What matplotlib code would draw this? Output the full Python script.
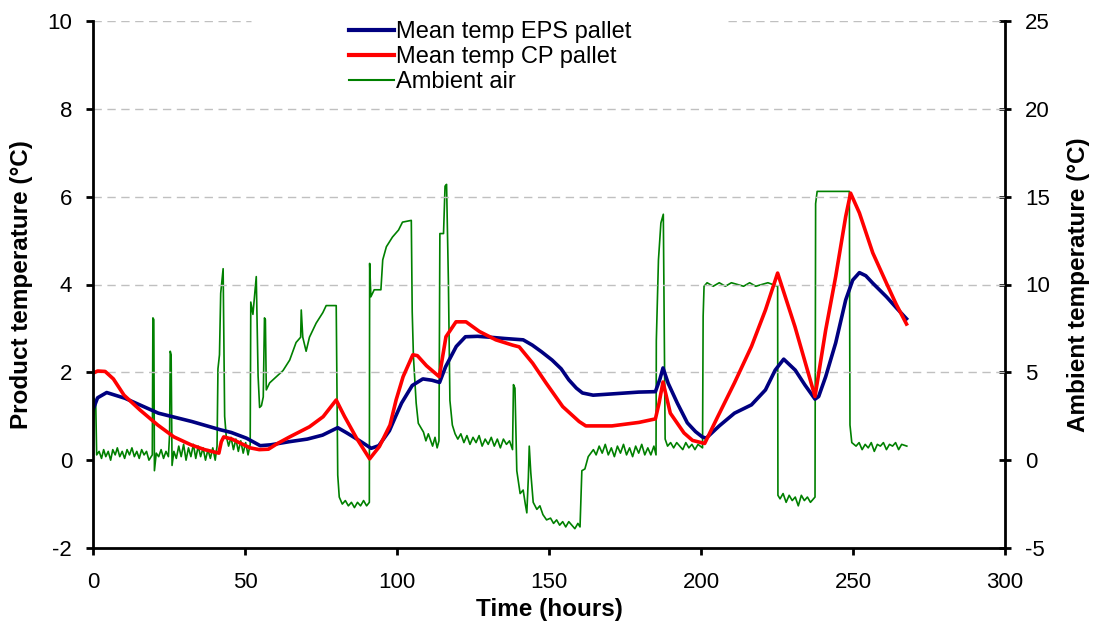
import matplotlib
matplotlib.use("Agg")
import matplotlib.pyplot as plt
from matplotlib.lines import Line2D

plt.rcParams['font.family'] = ['Liberation Sans', 'DejaVu Sans']
plt.rcParams['axes.unicode_minus'] = False

# mean product temperature, EPS pallet (hours, degC)
eps_pts = [(0, 1.15), (1.5, 1.42), (4.5, 1.54), (10.5, 1.41), (21.5, 1.07), (32.5, 0.88),
           (42, 0.69), (45.5, 0.63), (50.5, 0.5), (55, 0.33), (58.5, 0.35), (64.5, 0.42),
           (70.5, 0.48), (75.5, 0.57), (80.5, 0.74), (83.5, 0.62), (87.5, 0.45), (91.5, 0.27),
           (94, 0.33), (97.5, 0.67), (99.5, 0.99), (101.5, 1.3), (105, 1.7), (108.5, 1.85),
           (111.5, 1.82), (114, 1.77), (116, 2.13), (119.5, 2.59), (122.5, 2.81), (126.5, 2.82),
           (130.5, 2.8), (135.5, 2.77), (141.5, 2.74), (144.5, 2.62), (147.5, 2.47), (151, 2.28),
           (154, 2.08), (156.5, 1.83), (159, 1.64), (161, 1.53), (164.5, 1.48), (171, 1.51),
           (179.5, 1.55), (185, 1.56), (186.5, 1.85), (187.5, 2.1), (189.2, 1.75), (192.2, 1.3),
           (195.5, 0.85), (198.2, 0.65), (200.4, 0.53), (201.7, 0.5), (206, 0.78), (211, 1.07),
           (216.6, 1.26), (221.2, 1.6), (224.4, 2.05), (227.2, 2.3), (231, 2.05), (234.2, 1.71),
           (237.5, 1.39), (238.7, 1.45), (241, 1.9), (244.3, 2.67), (247.6, 3.65), (249.9, 4.1),
           (252.1, 4.27), (254.2, 4.2), (256.5, 4.03), (261, 3.72), (264.5, 3.45), (267.6, 3.22)]

# mean product temperature, CP pallet
cp_pts = [(0, 1.98), (1.5, 2.03), (4, 2.02), (6.7, 1.85), (10.2, 1.48), (15.5, 1.14),
          (21.3, 0.8), (26.6, 0.53), (32.2, 0.35), (36.7, 0.24), (41.4, 0.16), (42.2, 0.42),
          (43, 0.53), (45.7, 0.48), (48.7, 0.38), (51.7, 0.28), (54.7, 0.24), (57.7, 0.25),
          (60.7, 0.38), (64.7, 0.53), (71.2, 0.76), (75.7, 0.99), (80, 1.37), (82.7, 1.0),
          (86.7, 0.5), (91, 0.03), (94.2, 0.31), (97.7, 0.8), (99.7, 1.37), (102, 1.9),
          (105.2, 2.4), (106.7, 2.38), (109.7, 2.15), (113.9, 1.9), (116.1, 2.81), (119.4, 3.15),
          (122.7, 3.15), (127.1, 2.93), (132.5, 2.74), (138, 2.62), (140.2, 2.58), (144.6, 2.21),
          (149, 1.76), (154.5, 1.22), (159.9, 0.88), (162.1, 0.78), (170.7, 0.78), (179.6, 0.86),
          (185, 0.94), (186.2, 1.3), (187.5, 1.78), (189.9, 1.07), (194.4, 0.62), (197.2, 0.45),
          (201.2, 0.38), (205.5, 0.99), (211, 1.76), (216.6, 2.59), (221.2, 3.42), (225.2, 4.26),
          (230.9, 3.04), (237.5, 1.45), (241, 2.96), (244.3, 4.18), (247.6, 5.55), (249.2, 6.08),
          (252.1, 5.63), (256.5, 4.72), (261, 4.03), (264.2, 3.55), (267.6, 3.1)]

# ambient air temperature (right axis)
amb_pts = [(0, -0.4), (0.4, 3.5), (0.9, 3.2), (1.2, 0.3), (2, 0.5), (2.8, 0.1), (3.5, 0.6),
           (4.2, 0.2), (5, 0.5), (5.8, 0.0), (6.5, 0.6), (7.3, 0.3), (8, 0.7), (8.8, 0.2),
           (9.6, 0.5), (10.4, 0.1), (11.2, 0.6), (12, 0.3), (12.8, 0.7), (13.6, 0.2), (14.4, 0.5),
           (15.2, 0.1), (16, 0.6), (16.8, 0.3), (17.6, 0.5), (18.4, 0.0), (19.5, 0.3),
           (19.7, 8.1), (20.0, 8.0), (20.2, -0.6), (20.8, 0.4), (21.6, 0.2), (22.4, 0.6),
           (23.2, 0.1), (24.0, 0.5), (24.8, 0.2), (25.2, 1.5), (25.4, 6.2), (25.7, 6.0),
           (26.0, -0.3), (26.6, 0.5), (27.4, 0.1), (28.2, 0.8), (29, 0.2), (29.8, 0.9),
           (30.6, 0.0), (31.4, 0.7), (32.2, 0.2), (33, 0.9), (33.8, 0.1), (34.6, 0.8),
           (35.4, 0.2), (36.2, 0.7), (37, 0.0), (37.8, 0.6), (38.6, 0.1), (39.4, 0.7),
           (40.2, 0.0), (40.8, 0.8), (41.1, 5.2), (41.6, 6.0), (42.0, 9.5), (42.4, 10.2),
           (42.8, 10.9), (43.0, 7.4), (43.3, 2.5), (43.8, 1.4), (44.6, 0.8), (45.4, 1.3),
           (46.2, 0.6), (47, 1.2), (47.8, 0.5), (48.6, 1.1), (49.4, 0.4), (50.2, 1.0),
           (51, 0.3), (51.7, 0.9), (51.9, 9.0), (52.6, 8.3), (53.7, 10.45), (54.3, 4.8),
           (54.8, 3.0), (55.4, 3.1), (56.0, 3.6), (56.4, 8.1), (56.7, 8.0), (57.0, 4.0),
           (58.1, 4.4), (60.3, 4.75), (62.5, 5.1), (64.7, 5.7), (66.8, 6.7), (68.3, 7.0),
           (68.5, 8.55), (69.0, 7.0), (70.1, 6.2), (71.2, 7.0), (73.4, 7.8), (75.6, 8.4),
           (76.7, 8.8), (80.0, 8.8), (80.5, -0.85), (81, -2.1), (82, -2.5), (83, -2.3),
           (84, -2.6), (85, -2.4), (86, -2.7), (87, -2.4), (88, -2.6), (89, -2.3), (90, -2.6),
           (90.9, -2.4), (91.0, 11.2), (91.4, 9.3), (92.5, 9.7), (94.7, 9.7), (95.3, 11.4),
           (96.5, 12.15), (98.5, 12.7), (100.5, 13.1), (101.8, 13.55), (104.7, 13.65),
           (105.0, 8.45), (105.4, 5.9), (106.3, 3.25), (107.0, 2.1), (108.7, 1.6), (109.5, 1.1),
           (110.3, 1.5), (110.9, 1.2), (111.7, 0.8), (112.5, 1.3), (113.2, 0.7), (113.8, 1.1),
           (114.1, 12.9), (115.3, 12.9), (115.8, 15.6), (116.3, 15.7), (116.9, 10.2),
           (117.4, 3.4), (118.2, 2.0), (119.1, 1.5), (120, 1.2), (121, 1.5), (122, 1.0),
           (123, 1.4), (124, 0.9), (125, 1.3), (126, 1.0), (127, 1.4), (128, 0.8), (129, 1.2),
           (130, 0.9), (131, 1.3), (132, 0.8), (133, 1.2), (134, 0.7), (135, 1.2), (136, 0.9),
           (137, 1.1), (138, 0.6), (138.3, 4.3), (138.8, 4.1), (139.4, -0.6), (140.5, -1.9),
           (141.5, -1.7), (142.2, -2.5), (142.7, -3.0), (143.2, -1.0), (143.5, 0.8),
           (144.0, -0.7), (144.8, -2.4), (146, -2.8), (147, -2.6), (148, -3.1), (149.2, -3.4),
           (150.5, -3.3), (151.5, -3.6), (152.5, -3.4), (153.5, -3.7), (154.5, -3.5),
           (155.5, -3.8), (156.5, -3.5), (157.5, -3.7), (158.5, -3.9), (159.5, -3.6),
           (160.2, -3.8), (160.8, -0.6), (161.8, -0.5), (162.9, 0.2), (164.6, 0.6),
           (165.5, 0.3), (166.5, 0.8), (167.5, 0.4), (168.5, 0.9), (169.5, 0.3), (170.5, 0.7),
           (171.5, 0.2), (172.5, 0.8), (173.5, 0.4), (174.5, 0.9), (175.5, 0.3), (176.5, 0.7),
           (177.5, 0.2), (178.5, 0.8), (179.5, 0.4), (180.5, 0.9), (181.5, 0.3), (182.5, 0.7),
           (183.5, 0.3), (184.5, 0.8), (185.2, 0.3), (185.3, 6.8), (186.0, 11.4), (186.8, 13.5),
           (187.6, 14.0), (188.2, 1.2), (189, 0.8), (190, 1.0), (191, 0.7), (192, 1.0),
           (193, 0.8), (194, 0.6), (195, 1.0), (196, 0.7), (197, 0.9), (198, 0.6), (199, 0.9),
           (200.5, 0.7), (200.7, 8.2), (201.0, 9.9), (202, 10.1), (204, 9.9), (206, 10.1),
           (208, 9.9), (210, 10.1), (212, 10.0), (214, 9.9), (216, 10.1), (218, 9.9),
           (220, 10.0), (222, 10.1), (225.2, 9.9), (225.3, -2.0), (226, -2.2), (227, -1.9),
           (228, -2.4), (229, -2.0), (230, -2.3), (231, -2.1), (232, -2.6), (233, -2.0),
           (234, -2.3), (235, -2.1), (236, -2.4), (237.5, -2.1), (237.7, 14.6), (238.2, 15.3),
           (245, 15.3), (248.8, 15.3), (249.0, 2.0), (249.6, 1.0), (251, 0.8), (252, 1.0),
           (253, 0.6), (254, 0.9), (255, 0.7), (256, 1.0), (257, 0.5), (258, 0.9), (259, 0.8),
           (260, 1.0), (261, 0.6), (262, 0.9), (263, 0.8), (264, 1.0), (265, 0.6), (266, 0.9),
           (267.7, 0.8)]

x_ticks = [0, 50, 100, 150, 200, 250, 300]
left_ticks = [-2, 0, 2, 4, 6, 8, 10]
right_ticks = [-5, 0, 5, 10, 15, 20, 25]
labels = ['Mean temp EPS pallet', 'Mean temp CP pallet', 'Ambient air']

fig = plt.figure(figsize=(10.93, 6.25), dpi=100)
ax = fig.add_axes([0.0851, 0.1232, 0.8344, 0.8432])
ax2 = ax.twinx()

# ambient on the twin axis, drawn behind the product curves
ax.set_zorder(ax2.get_zorder() + 1)
ax.patch.set_visible(False)

t, v = zip(*amb_pts)
ax2.plot(t, v, color='#008000', lw=1.2)
t, v = zip(*eps_pts)
ax.plot(t, v, color='#000080', lw=2.6)
t, v = zip(*cp_pts)
ax.plot(t, v, color='#ff0000', lw=2.6)

ax.set_xlim(0, 300)
ax.set_ylim(-2, 10)
ax2.set_ylim(-5, 25)
ax.set_xticks(x_ticks)
ax.set_yticks(left_ticks)
ax2.set_yticks(right_ticks)

# dashed grid, gap at the top where the legend sits
for g in left_ticks[2:-1]:
    ax.axhline(g, color='#c0c0c0', lw=1, dashes=(6, 4), zorder=0)
ax.hlines(10, 0, 52, color='#c0c0c0', lw=1, linestyles=(0, (6, 4)), zorder=0)
ax.hlines(10, 209, 300, color='#c0c0c0', lw=1, linestyles=(0, (6, 4)), zorder=0)

for a in (ax, ax2):
    a.spines['top'].set_visible(False)
    for s in a.spines.values():
        s.set_linewidth(2)
ax.spines['right'].set_visible(False)
ax2.spines['left'].set_visible(False)
ax2.spines['bottom'].set_visible(False)

ax.tick_params(axis='x', direction='out', length=5, width=2, labelsize=16, pad=12)
ax.tick_params(axis='y', direction='out', length=5, width=2, labelsize=16, pad=10)
ax2.tick_params(axis='y', direction='inout', length=9, width=2, labelsize=16, pad=10)

ax.set_xlabel('Time (hours)', fontsize=17.5, fontweight='bold', labelpad=4)
ax.set_ylabel('Product temperature (°C)', fontsize=17.5, fontweight='bold', labelpad=10)
ax2.set_ylabel('Ambient temperature (°C)', fontsize=17.5, fontweight='bold', labelpad=12)

handles = [Line2D([], [], color='#000080', lw=3),
           Line2D([], [], color='#ff0000', lw=3),
           Line2D([], [], color='#008000', lw=1.5)]
ax.legend(handles, labels, loc='upper left', bbox_to_anchor=(0.27, 1.017), frameon=False,
          fontsize=17, handlelength=1.9, handletextpad=0.1, labelspacing=0.12,
          borderaxespad=0)

fig.savefig('out.png', dpi=100)
